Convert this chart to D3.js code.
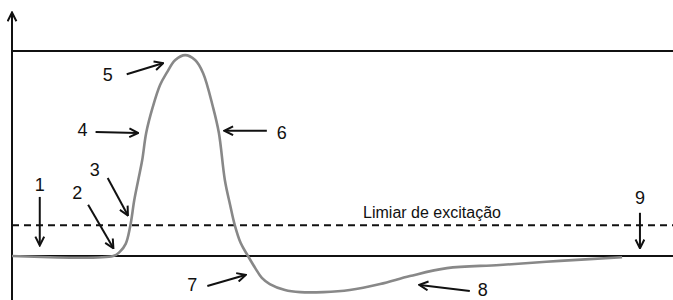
<!DOCTYPE html>
<html lang="pt">
<head>
<meta charset="UTF-8">
<title>Potencial de ação</title>
<script src="https://cdnjs.cloudflare.com/ajax/libs/d3/7.8.5/d3.min.js"></script>
<style>
  body { margin: 0; background: #fff; }
  svg { display: block; }
  text { font-family: "Liberation Sans", Arial, sans-serif; fill: #111; }
</style>
</head>
<body>
<svg width="673" height="300"></svg>
<script>
// tempo (ms) e potencial de membrana (mV)
const timeMs = [0, 1.53, 1.63, 1.72, 1.79, 1.85, 1.91, 1.97, 2.03, 2.13, 2.24, 2.34, 2.47, 2.62,
                2.77, 2.89, 3.04, 3.13, 3.22, 3.30, 3.37, 3.46, 3.57, 3.68, 3.78, 3.90, 4.13,
                4.36, 4.71, 5.11, 5.57, 6.02, 6.58, 7.38, 8.29, 9.23];
const voltage = [-70, -70, -68, -64.1, -55.2, -42.7, -32.9, -23.2, -10, 2.7, 13.4, 19.3, 25.6, 28,
                 25.6, 19.3, 2.7, -10, -32.9, -45.1, -54.9, -63.7, -70, -75.9, -80.7, -83.7, -86.6,
                 -87.6, -87.6, -86.6, -83.7, -79.8, -75.9, -74.4, -72.4, -70.6];

const restingMv = -70;
const thresholdMv = -55;
const peakLineMv = 30;
const thresholdLabel = "Limiar de excitação";

// rótulos numerados: alvo da seta (tempo, mV)
const markLabels = ["1", "2", "3", "4", "5", "6", "7", "8", "9"];
const markTime   = [0.42, 1.53, 1.75, 1.9, 2.28, 3.22, 3.53, 6.17, 9.5];
const markMv     = [-64.6, -66, -50, -10, 24, -8.9, -79.3, -84.1, -66];

const svg = d3.select("svg");
const width = +svg.attr("width"), height = +svg.attr("height");
const left = 12;

const x = d3.scaleLinear().domain([0, 10]).range([left, 673]);
const y = d3.scaleLinear().domain([restingMv, peakLineMv]).range([256, 51]);

const defs = svg.append("defs");
defs.append("marker")
    .attr("id", "head")
    .attr("viewBox", "0 0 10 10")
    .attr("refX", 8.5).attr("refY", 5)
    .attr("markerWidth", 5.5).attr("markerHeight", 5.5)
    .attr("markerUnits", "strokeWidth")
    .attr("orient", "auto")
  .append("path")
    .attr("d", "M1,1 L9,5 L1,9")
    .attr("fill", "none")
    .attr("stroke", "#111")
    .attr("stroke-width", 1.8)
    .attr("stroke-linejoin", "miter");

// eixo vertical com seta
svg.append("line")
    .attr("x1", left).attr("x2", left)
    .attr("y1", height).attr("y2", 13)
    .attr("stroke", "#111").attr("stroke-width", 2)
    .attr("marker-end", "url(#head)");

// linhas de referência
[[peakLineMv, null], [restingMv, null], [thresholdMv, "7,5"]].forEach(([v, dash]) => {
  svg.append("line")
      .attr("x1", left).attr("x2", width)
      .attr("y1", y(v)).attr("y2", y(v))
      .attr("stroke", "#111").attr("stroke-width", 2)
      .attr("stroke-dasharray", dash);
});

svg.append("text")
    .attr("x", 432).attr("y", y(thresholdMv) - 7)
    .attr("text-anchor", "middle")
    .attr("font-size", 16)
    .text(thresholdLabel);

// curva do potencial de ação
const pts = timeMs.map((t, i) => [t, voltage[i]]);
svg.append("path")
    .datum(pts)
    .attr("fill", "none")
    .attr("stroke", "#888")
    .attr("stroke-width", 2.6)
    .attr("d", d3.line().x(d => x(d[0])).y(d => y(d[1])).curve(d3.curveCatmullRom.alpha(0.5)));

// setas e números: deslocamento do início da seta e do número em px
const offsets = {
  "1": { tail: [0, -48], lab: [0, -60] },
  "2": { tail: [-25, -43], lab: [-36, -55] },
  "3": { tail: [-20, -37], lab: [-33, -45] },
  "4": { tail: [-42, -1], lab: [-55, -3] },
  "5": { tail: [-36, 11], lab: [-55, 12] },
  "6": { tail: [42, 0], lab: [57, 2] },
  "7": { tail: [-38, 11], lab: [-53, 10] },
  "8": { tail: [50, 6], lab: [63, 5] },
  "9": { tail: [0, -35], lab: [0, -50] }
};

markLabels.forEach((lab, i) => {
  const tx = x(markTime[i]), ty = y(markMv[i]);
  const o = offsets[lab];
  svg.append("line")
      .attr("x1", tx + o.tail[0]).attr("y1", ty + o.tail[1])
      .attr("x2", tx).attr("y2", ty)
      .attr("stroke", "#111").attr("stroke-width", 2)
      .attr("marker-end", "url(#head)");
  svg.append("text")
      .attr("x", tx + o.lab[0]).attr("y", ty + o.lab[1])
      .attr("text-anchor", "middle")
      .attr("dominant-baseline", "central")
      .attr("font-size", 18)
      .text(lab);
});
</script>
</body>
</html>
